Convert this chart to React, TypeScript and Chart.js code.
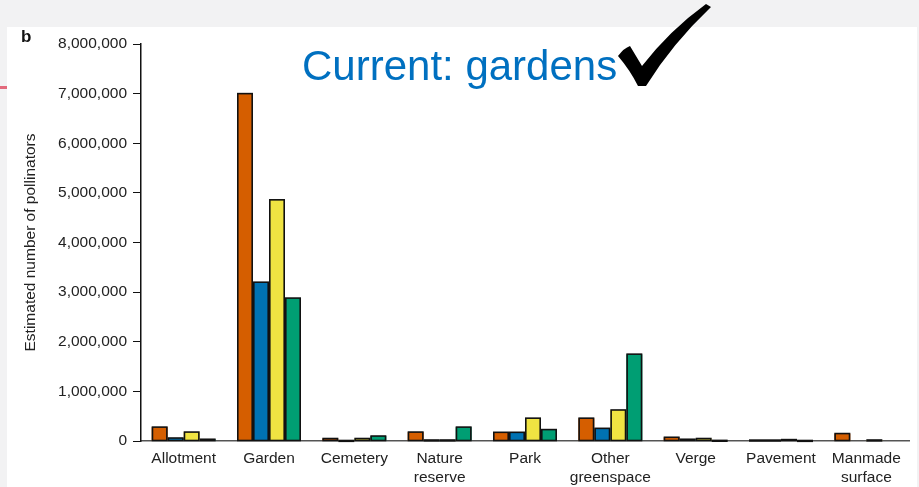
import React, { useEffect, useRef } from "react";
import { Chart, registerables } from "chart.js";

Chart.register(...registerables);

const categories: (string | string[])[] = [
  "Allotment",
  "Garden",
  "Cemetery",
  ["Nature", "reserve"],
  "Park",
  ["Other", "greenspace"],
  "Verge",
  "Pavement",
  ["Manmade", "surface"],
];

const seriesOrange = [280000, 7000000, 50000, 180000, 175000, 460000, 75000, 18000, 150000];
const seriesBlue = [60000, 3200000, 10000, 20000, 175000, 255000, 35000, 18000, 0];
const seriesYellow = [180000, 4860000, 50000, 20000, 460000, 625000, 50000, 28000, 20000];
const seriesGreen = [35000, 2880000, 100000, 280000, 230000, 1750000, 12000, 8000, 0];

const yTickMax = 8000000;
const yTickStep = 1000000;

const titleText = "Current: gardens";
const panelLabel = "b";
const yAxisTitle = "Estimated number of pollinators";

const FONT = "'Liberation Sans', Arial, Helvetica, sans-serif";

const barOutline = {
  id: "barOutline",
  afterDatasetsDraw(chart: any) {
    const ctx = chart.ctx;
    ctx.save();
    ctx.strokeStyle = "#111";
    ctx.lineWidth = 1.6;
    chart.data.datasets.forEach((ds: any, i: number) => {
      const meta = chart.getDatasetMeta(i);
      meta.data.forEach((bar: any, j: number) => {
        if (!ds.data[j]) return;
        const p = bar.getProps(["x", "y", "base", "width"], true);
        const left = p.x - p.width / 2;
        const top = Math.min(p.y, p.base);
        const h = Math.abs(p.base - p.y);
        ctx.strokeRect(left + 0.8, top, p.width - 1.6, Math.max(h, 0.8));
      });
    });
    ctx.restore();
  },
};

export default function App() {
  const canvasRef = useRef<HTMLCanvasElement | null>(null);

  useEffect(() => {
    if (!canvasRef.current) return;
    const mk = (label: string, data: number[], color: string) => ({
      label,
      data,
      backgroundColor: color,
      borderWidth: 0,
      categoryPercentage: 0.75,
      barPercentage: 1.0,
    });
    const chart = new Chart(canvasRef.current, {
      type: "bar",
      data: {
        labels: categories,
        datasets: [
          mk("Series 1", seriesOrange, "#D55E00"),
          mk("Series 2", seriesBlue, "#0072B2"),
          mk("Series 3", seriesYellow, "#F0E442"),
          mk("Series 4", seriesGreen, "#009E73"),
        ],
      },
      plugins: [barOutline],
      options: {
        animation: false,
        responsive: false,
        maintainAspectRatio: false,
        layout: { padding: { left: 0, right: 10, top: 44, bottom: 0 } },
        plugins: {
          legend: { display: false },
          tooltip: { enabled: false },
        },
        scales: {
          x: {
            grid: { display: false, drawTicks: false },
            border: { display: true, color: "#555", width: 1.5 },
            ticks: {
              color: "#222",
              padding: 8,
              maxRotation: 0,
              autoSkip: false,
              font: { family: FONT, size: 15.5, lineHeight: 1.22 },
            },
            afterFit: (axis: any) => {
              axis.height = 46;
            },
          },
          y: {
            min: 0,
            max: yTickMax,
            grid: {
              drawOnChartArea: false,
              drawTicks: true,
              tickLength: 8,
              color: "#111",
            },
            border: { display: true, color: "#111", width: 1.5 },
            ticks: {
              stepSize: yTickStep,
              color: "#222",
              padding: 6,
              font: { family: FONT, size: 15.5 },
              callback: (v: any) => Number(v).toLocaleString("en-US"),
            },
            title: {
              display: true,
              text: yAxisTitle,
              color: "#222",
              font: { family: FONT, size: 15.5 },
              padding: { top: 21, bottom: 0 },
            },
            afterFit: (axis: any) => {
              axis.width = 141;
            },
          },
        },
      },
    });
    return () => chart.destroy();
  }, []);

  return (
    <div
      style={{
        position: "fixed",
        left: 0,
        top: 0,
        width: 919,
        height: 487,
        background: "#f2f2f3",
        overflow: "hidden",
        fontFamily: FONT,
      }}
    >
      <div
        style={{
          position: "absolute",
          left: 7,
          top: 27,
          width: 910,
          height: 460,
          background: "#ffffff",
        }}
      />
      <div
        style={{
          position: "absolute",
          left: 0,
          top: 86,
          width: 7,
          height: 3,
          background: "#e36a7c",
        }}
      />
      <canvas
        ref={canvasRef}
        width={919}
        height={487}
        style={{ position: "absolute", left: 0, top: 0, width: 919, height: 487 }}
      />
      <div
        style={{
          position: "absolute",
          left: 21,
          top: 27,
          fontSize: 17,
          fontWeight: "bold",
          color: "#111",
          lineHeight: "20px",
        }}
      >
        {panelLabel}
      </div>
      <div
        style={{
          position: "absolute",
          left: 302,
          top: 42,
          fontSize: 42,
          color: "#0070C0",
          lineHeight: "48px",
          whiteSpace: "nowrap",
        }}
      >
        {titleText}
      </div>
      <svg
        width={919}
        height={487}
        style={{ position: "absolute", left: 0, top: 0, pointerEvents: "none" }}
      >
        <path
          d="M618 56 Q624 48 630 46 Q636 56 642 66 Q670 30 706 4 L711 7 Q672 44 646 86 L638 86 Q630 70 618 56 Z"
          fill="#000"
        />
      </svg>
    </div>
  );
}
